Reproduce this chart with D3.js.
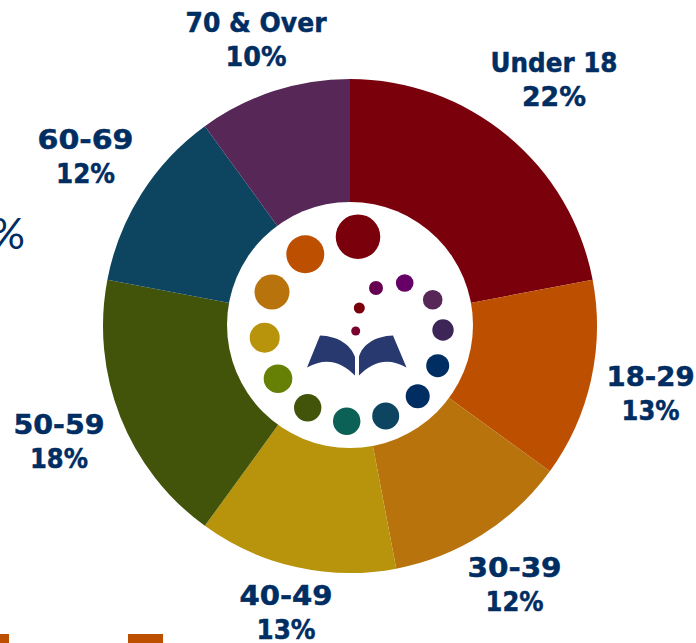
<!DOCTYPE html>
<html>
<head>
<meta charset="utf-8">
<script src="https://cdn.jsdelivr.net/npm/d3@7"></script>
<style>
    html, body { margin: 0; padding: 0; background: #fff; overflow: hidden; }
    .label { font-family: "DejaVu Sans", sans-serif; font-weight: 700; font-size: 27px; fill: #002d62; stroke: #002d62; stroke-width: 0.5px; }
    .stray { font-family: Lato, sans-serif; font-weight: 400; font-size: 43px; fill: #002d62; }
</style>
</head>
<body>
<div id="chart"></div>
<script>
"use strict";

const ageGroups = ["Under 18", "18-29", "30-39", "40-49", "50-59", "60-69", "70 & Over"];
const shares = [22, 13, 12, 13, 18, 12, 10];
const sliceColors = ["#7a000c", "#bd4f00", "#b8730c", "#b8930c", "#42530a", "#0d4560", "#572758"];

const width = 696, height = 643;
const cx = 350, cy = 326;
const outerRadius = 247, innerRadius = 120, holeRadius = 123, labelRadius = 309;

// Labels sit roughly on a ring; these pull each one onto its place, and stretch it to the original's wider face.
const labelNudge = [[7, -15.9], [-1, -7.4], [-1, -9.9], [3.4, -22.6], [-3.7, -5.8], [-3.6, -11.4], [1.5, -0.1]];
const nameWidths = [127, 88, 94, 93, 91, 96, 141];
const shareWidths = [64, 58, 58, 59, 58, 59, 61];
const lineGap = 33.7;

const svg = d3.select("#chart")
    .append("svg")
    .attr("width", width)
    .attr("height", height);

// Bits of neighbouring graphics cut off by the crop of the original.
svg.append("text")
    .attr("class", "stray")
    .attr("text-anchor", "end")
    .attr("x", 25)
    .attr("y", 249)
    .text("%");
svg.selectAll("rect.stray-bar")
    .data([[0, 9], [128, 35]])
    .join("rect")
    .attr("x", d => d[0])
    .attr("y", 634)
    .attr("width", d => d[1])
    .attr("height", 9)
    .attr("fill", "#bd4f00");

const pie = d3.pie().sort(null).value(d => d);
const arcs = pie(shares);
const arc = d3.arc().innerRadius(innerRadius).outerRadius(outerRadius);
const labelArc = d3.arc().innerRadius(labelRadius).outerRadius(labelRadius);

const g = svg.append("g").attr("transform", `translate(${cx},${cy})`);

g.selectAll("path.slice")
    .data(arcs)
    .join("path")
    .attr("class", "slice")
    .attr("d", arc)
    .attr("fill", (d, i) => sliceColors[i]);

const labels = g.selectAll("g.label")
    .data(arcs)
    .join("g")
    .attr("class", "label")
    .attr("text-anchor", "middle")
    .attr("transform", (d, i) => {
        const c = labelArc.centroid(d);
        return `translate(${c[0] + labelNudge[i][0]},${c[1] + labelNudge[i][1]})`;
    });
labels.append("text")
    .attr("textLength", (d, i) => nameWidths[i])
    .attr("lengthAdjust", "spacingAndGlyphs")
    .text((d, i) => ageGroups[i]);
labels.append("text")
    .attr("y", lineGap)
    .attr("textLength", (d, i) => shareWidths[i])
    .attr("lengthAdjust", "spacingAndGlyphs")
    .text(d => d.value + "%");

// Logo in the hole: dots spiralling round an open book.
svg.append("circle")
    .attr("cx", cx)
    .attr("cy", cy - 1)
    .attr("r", holeRadius)
    .attr("fill", "#fff");
const logoDots = [
    [358, 236.7, 22.3, "#7a000c"], [305.3, 254.3, 19, "#bd4f00"], [272, 292, 17.5, "#b8730c"],
    [264.7, 337.7, 15, "#b8930c"], [278, 378.7, 14.3, "#658005"], [307.7, 407.7, 13.7, "#42530a"],
    [346.7, 421.3, 13.7, "#0b6155"], [385.7, 416, 13.5, "#0d4560"], [417.7, 396.3, 12, "#002d62"],
    [437.7, 365.7, 11.5, "#002d62"], [443, 330, 10.7, "#3d2657"], [432.7, 299.7, 9.8, "#572758"],
    [404.7, 283, 8.8, "#660066"], [376, 288, 7, "#660050"], [359.3, 308, 5.5, "#7a000c"],
    [355.7, 331, 4.5, "#7a0030"]
];
const logo = svg.append("g");
logo.selectAll("circle")
    .data(logoDots)
    .join("circle")
    .attr("cx", d => d[0])
    .attr("cy", d => d[1])
    .attr("r", d => d[2])
    .attr("fill", d => d[3]);
logo.selectAll("path")
    .data([
        "M320,335.5 C338,336 351,345 355,357 L355,375.5 C343,363 327,356 307,367.5 Z",
        "M393,335.5 C375,336 362,345 359,357 L359,375.5 C371,363 387,356 406.5,367.5 Z"
    ])
    .join("path")
    .attr("d", d => d)
    .attr("fill", "#27396f");
</script>
</body>
</html>
